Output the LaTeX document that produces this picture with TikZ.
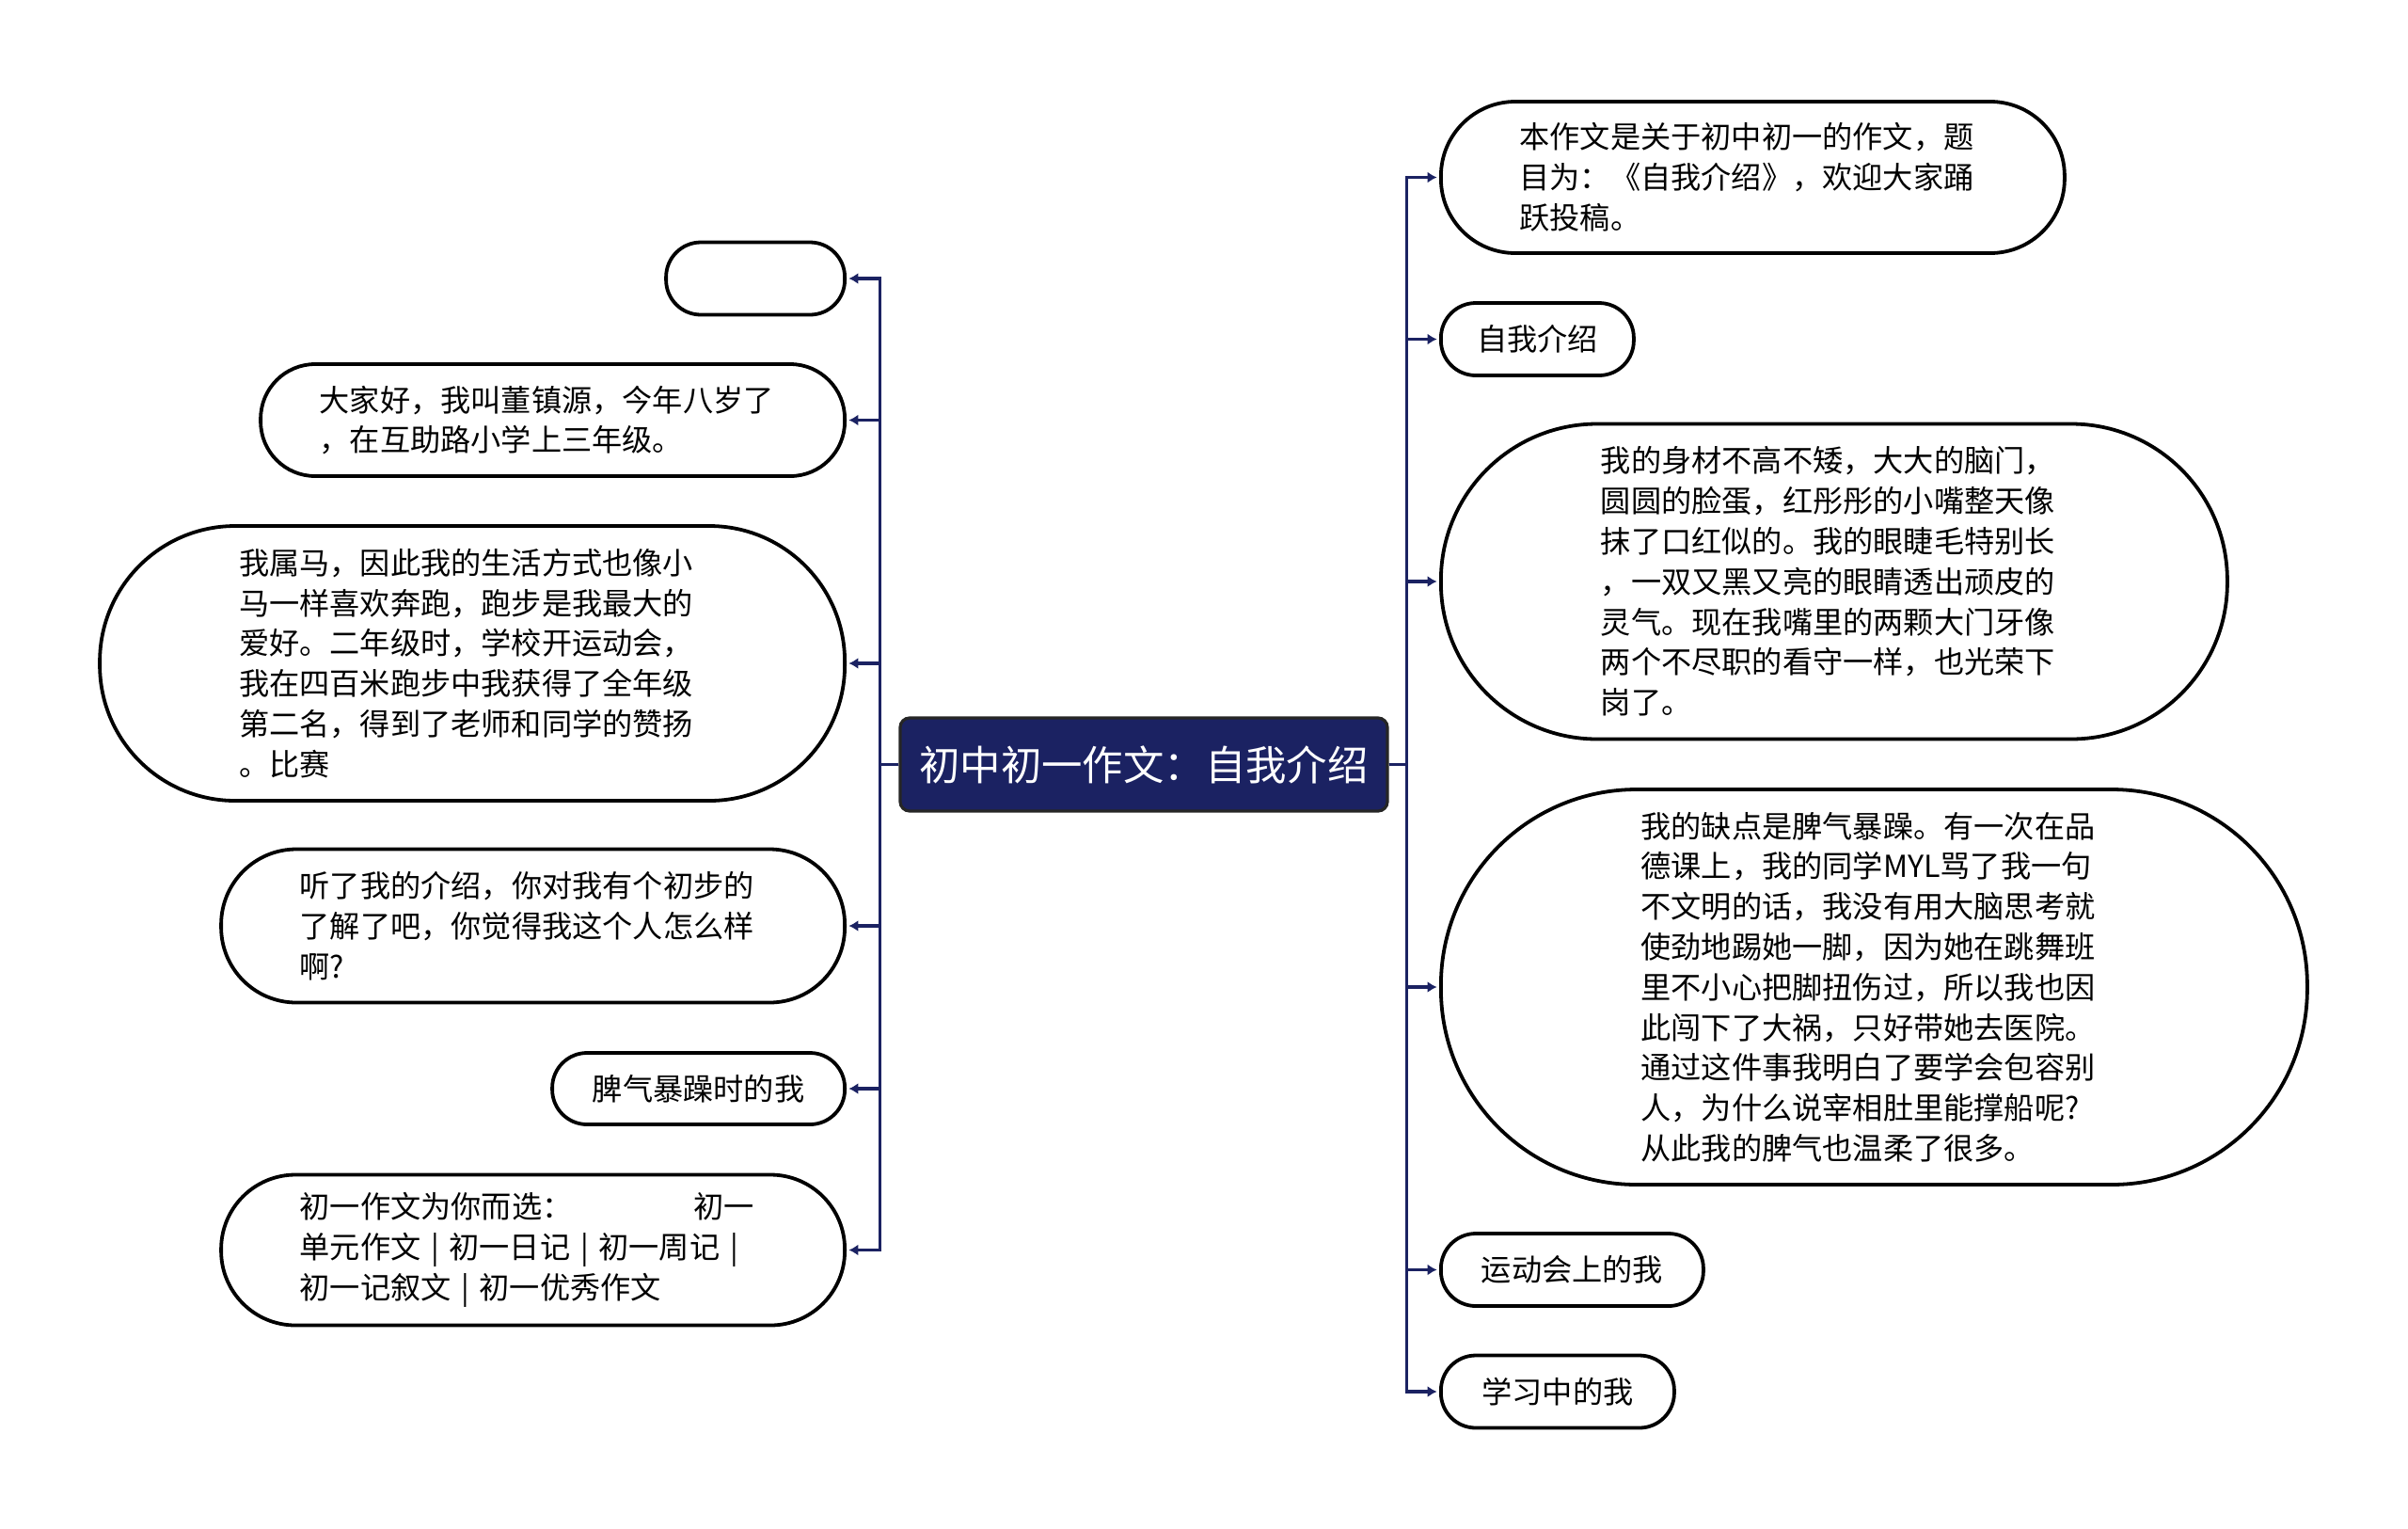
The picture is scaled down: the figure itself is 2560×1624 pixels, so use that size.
\documentclass[tikz,border=0pt]{standalone}
\usepackage{fontspec}
\setmainfont{Noto Sans CJK SC}
\usetikzlibrary{arrows.meta}

\definecolor{navy}{RGB}{27,34,98}

\tikzset{
    root/.style={draw=black!85, fill=navy, text=white, line width=1.6pt,
        rounded corners=5pt, inner sep=0pt, minimum width=259pt, minimum height=49.5pt,
        font=\fontsize{21.7}{26}\selectfont},
    topic/.style={draw, line width=1.9pt, rounded corners=#1, inner sep=0pt,
        align=left, font=\fontsize{16.1}{21.4}\selectfont},
    link/.style={draw=navy, line width=1.6pt, shorten >=1.2pt, -{Latex[length=5pt,width=6pt]}}
}

\begin{document}
\begin{tikzpicture}[x=0.5pt, y=-0.5pt]
    \useasboundingbox (0,0) rectangle (2560,1624);

    \node[root] (root) at (1216,812.5) {初中初一作文：自我介绍};

    % left side
    \node[topic=18.5pt, minimum width=95pt, minimum height=38.5pt, anchor=east] (l1) at (900,296) {};
    \node[topic=29pt, text width=248pt, minimum width=310.5pt, minimum height=59.5pt, anchor=east] (l2) at (900,446.5)
        {大家好，我叫董镇源，今年八岁了\\，在互助路小学上三年级。};
    \node[topic=72pt, text width=248pt, minimum width=396pt, minimum height=146pt, anchor=east] (l3) at (900,705)
        {我属马，因此我的生活方式也像小\\马一样喜欢奔跑，跑步是我最大的\\爱好。二年级时，学校开运动会，\\我在四百米跑步中我获得了全年级\\第二名，得到了老师和同学的赞扬\\。比赛};
    \node[topic=40pt, text width=248pt, minimum width=331.5pt, minimum height=81.5pt, anchor=east] (l4) at (900,984)
        {听了我的介绍，你对我有个初步的\\了解了吧，你觉得我这个人怎么样\\啊?};
    \node[topic=18.5pt, align=center, minimum width=155.5pt, minimum height=38pt, anchor=east] (l5) at (900,1157)
        {脾气暴躁时的我};
    \node[topic=39.5pt, text width=248pt, minimum width=331.5pt, minimum height=80pt, anchor=east] (l6) at (900,1328.5)
        {初一作文为你而选：\hspace*{4em}初一\\单元作文 | 初一日记 | 初一周记 |\\初一记叙文 | 初一优秀作文};

    % right side
    \node[topic=39.5pt, text width=248pt, minimum width=331.5pt, minimum height=80.5pt, anchor=west] (r1) at (1530,188.5)
        {本作文是关于初中初一的作文，题\\目为：《自我介绍》，欢迎大家踊\\跃投稿。};
    \node[topic=18.5pt, align=center, minimum width=102.5pt, minimum height=38.5pt, anchor=west] (r2) at (1530,360.5)
        {自我介绍};
    \node[topic=83pt, text width=248pt, minimum width=418pt, minimum height=167.5pt, anchor=west] (r3) at (1530,618)
        {我的身材不高不矮，大大的脑门，\\圆圆的脸蛋，红彤彤的小嘴整天像\\抹了口红似的。我的眼睫毛特别长\\，一双又黑又亮的眼睛透出顽皮的\\灵气。现在我嘴里的两颗大门牙像\\两个不尽职的看守一样，也光荣下\\岗了。};
    \node[topic=104pt, text width=248pt, minimum width=460.5pt, minimum height=210pt, anchor=west] (r4) at (1530,1049)
        {我的缺点是脾气暴躁。有一次在品\\德课上，我的同学MYL骂了我一句\\不文明的话，我没有用大脑思考就\\使劲地踢她一脚，因为她在跳舞班\\里不小心把脚扭伤过，所以我也因\\此闯下了大祸，只好带她去医院。\\通过这件事我明白了要学会包容别\\人，为什么说宰相肚里能撑船呢?\\从此我的脾气也温柔了很多。};
    \node[topic=18.5pt, align=center, minimum width=139.5pt, minimum height=38.5pt, anchor=west] (r5) at (1530,1349.5)
        {运动会上的我};
    \node[topic=18.5pt, align=center, minimum width=124pt, minimum height=38.5pt, anchor=west] (r6) at (1530,1479)
        {学习中的我};

    % connectors
    \foreach \i in {1,...,6} {
        \draw[link] (root.west) -- ++(-10pt,0) |- (l\i.east);
        \draw[link] (root.east) -- ++(9.5pt,0) |- (r\i.west);
    }
\end{tikzpicture}
\end{document}
